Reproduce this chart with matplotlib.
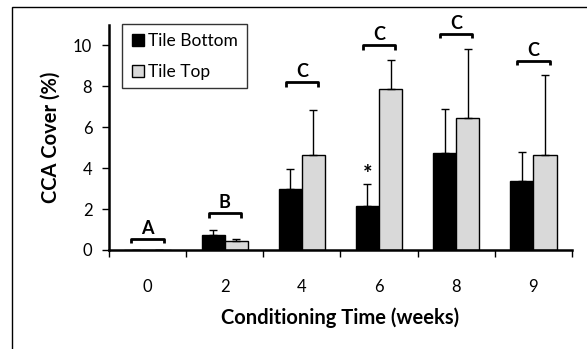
import matplotlib.pyplot as plt
from matplotlib.lines import Line2D
from matplotlib.patches import Rectangle

weeks = ["0", "2", "4", "6", "8", "9"]
bottom_mean = [0.0, 0.75, 3.0, 2.17, 4.75, 3.35]
bottom_err = [0.0, 0.23, 0.97, 1.05, 2.15, 1.45]
top_mean = [0.0, 0.45, 4.66, 7.88, 6.47, 4.64]
top_err = [0.0, 0.1, 2.17, 1.4, 3.37, 3.92]
letters = ["A", "B", "C", "C", "C", "C"]
bracket_y = [0.54, 1.8, 8.2, 10.0, 10.57, 9.26]

plt.rcParams['font.family'] = ['Lato', 'DejaVu Sans']

fig = plt.figure(figsize=(5.87, 3.49), dpi=100)
ax = fig.add_axes([0.1857, 0.2837, 0.7887, 0.6447])

# outer frame (right and bottom run off the picture)
fig.patches.append(Rectangle((12 / 587, -0.1), 1.2, 1.1 - 7 / 349, transform=fig.transFigure,
                             fill=False, edgecolor='black', linewidth=1.0))

x = list(range(len(weeks)))
w = 0.3
xb = [i - w / 2 for i in x]
xt = [i + w / 2 for i in x]
err_kw = dict(elinewidth=1.0, capsize=3, capthick=1.0, ecolor='black')
ax.bar(xb, bottom_mean, w, color='black', edgecolor='black', linewidth=1.0,
       yerr=[[0] * len(x), bottom_err], error_kw=err_kw, label='Tile Bottom')
ax.bar(xt, top_mean, w, color='#d9d9d9', edgecolor='black', linewidth=1.0,
       yerr=[[0] * len(x), top_err], error_kw=err_kw, label='Tile Top')

# significance brackets
for i, (lab, by) in enumerate(zip(letters, bracket_y)):
    ax.plot([i - 0.21, i - 0.21, i + 0.21, i + 0.21], [by - 0.22, by, by, by - 0.22],
            color='black', linewidth=2, solid_capstyle='butt', clip_on=False)
    ax.text(i, by + 0.1, lab, ha='center', va='bottom', fontsize=13, fontweight='bold')

ax.text(xb[3], bottom_mean[3] + bottom_err[3] - 0.05, "*", ha='center', va='bottom',
        fontsize=16, fontweight='bold')

ax.set_xlim(-0.5, 5.5)
ax.set_ylim(0, 11)
ax.set_yticks([0, 2, 4, 6, 8, 10])
ax.set_xticks(x)
ax.set_xticklabels(weeks)
ax.set_xticks([i - 0.5 for i in range(len(x) + 1)], minor=True)
ax.tick_params(axis='x', which='major', length=0, pad=21, labelsize=12)
ax.tick_params(axis='x', which='minor', length=5, width=1, direction='out')
ax.tick_params(axis='y', length=5, width=1, pad=7, labelsize=12)

for s in ['top', 'right']:
    ax.spines[s].set_visible(False)
for s in ['left', 'bottom']:
    ax.spines[s].set_linewidth(1.8)

ax.set_ylabel("CCA Cover (%)", fontsize=14.5, fontweight='bold', labelpad=9)
ax.set_xlabel("Conditioning Time (weeks)", fontsize=14.5, fontweight='bold', labelpad=9)

handles = [Line2D([], [], marker='s', linestyle='none', markersize=8, markerfacecolor='black',
                  markeredgecolor='black'),
           Line2D([], [], marker='s', linestyle='none', markersize=8, markerfacecolor='#d9d9d9',
                  markeredgecolor='black')]
leg = ax.legend(handles, ['Tile Bottom', 'Tile Top'], loc='upper left',
                bbox_to_anchor=(0.028, 1.003), borderaxespad=0, fontsize=12.5, frameon=True,
                fancybox=False, edgecolor='black', handlelength=0.8, handletextpad=0.2,
                labelspacing=0.85, borderpad=0.5)
leg.get_frame().set_linewidth(1.0)

fig.savefig("out.png", dpi=100)
